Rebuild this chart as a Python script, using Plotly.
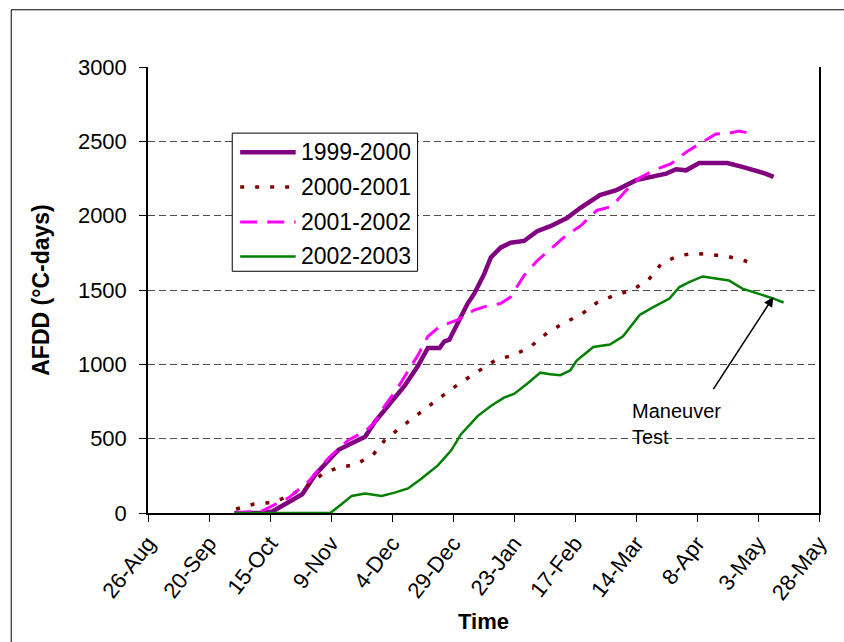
import plotly.graph_objects as go

# x = days since 26-Aug, y = AFDD (°C-days)
tick_days = [0, 25, 50, 75, 100, 125, 150, 175, 200, 225, 250, 275]
tick_labels = ["26-Aug", "20-Sep", "15-Oct", "9-Nov", "4-Dec", "29-Dec",
               "23-Jan", "17-Feb", "14-Mar", "8-Apr", "3-May", "28-May"]

series_names = ["1999-2000", "2000-2001", "2001-2002", "2002-2003"]

days_1999 = [35.4, 45.8, 51.0, 56.4, 63.2, 68.6, 74.0, 78.1, 83.5, 89.0, 93.0, 99.8,
             105.2, 110.6, 114.7, 119.5, 121.5, 123.5, 127.6, 131.0, 133.7, 137.8,
             140.5, 144.5, 148.6, 154.1, 159.5, 164.9, 171.7, 177.1, 185.2, 192.0,
             200.1, 206.9, 212.4, 216.4, 220.5, 225.9, 237.4, 243.6, 249.0, 253.0, 256.4]
afdd_1999 = [0, 0, 10, 60, 126, 259, 358, 425, 469, 513, 613, 745,
             856, 989, 1110, 1110, 1155, 1166, 1299, 1409, 1475, 1608,
             1719, 1785, 1818, 1830, 1896, 1929, 1984, 2051, 2139, 2172,
             2239, 2261, 2283, 2312, 2305, 2354, 2354, 2328, 2305, 2283, 2261]

days_2000 = [36.1, 43.5, 51.0, 57.8, 65.2, 71.3, 77.4, 84.9, 92.3, 97.1, 103.9, 110.0,
             116.8, 123.5, 130.3, 136.4, 142.5, 149.3, 156.1, 163.5, 170.3, 177.8,
             183.9, 191.3, 198.1, 204.9, 210.3, 217.1, 223.9, 231.3, 238.1, 245.6]
afdd_2000 = [27, 60, 71, 115, 181, 259, 303, 325, 392, 491, 580, 657,
             745, 823, 900, 967, 1029, 1060, 1110, 1210, 1276, 1339,
             1414, 1465, 1498, 1564, 1675, 1730, 1746, 1737, 1724, 1692]

days_2001 = [35.4, 46.9, 57.8, 65.9, 74.0, 82.2, 89.0, 93.0, 97.1, 102.5, 106.6, 110.6,
             114.7, 119.5, 126.9, 133.7, 138.4, 144.5, 148.6, 151.3, 154.1, 159.5,
             164.9, 171.7, 177.1, 183.9, 190.0, 196.1, 201.5, 208.3, 214.4, 220.5,
             225.9, 232.7, 238.1, 242.2, 246.2]
afdd_2001 = [0, 15, 104, 214, 370, 491, 550, 610, 723, 845, 956, 1060,
             1188, 1254, 1299, 1365, 1390, 1409, 1453, 1520, 1597, 1697,
             1774, 1872, 1929, 2035, 2062, 2172, 2255, 2312, 2350, 2427,
             2482, 2549, 2555, 2570, 2555]

days_2002 = [35.4, 74.7, 79.4, 83.5, 89.0, 95.7, 101.1, 106.6, 112.0, 118.8, 124.2,
             128.3, 135.1, 140.5, 145.9, 150.0, 155.4, 160.8, 164.9, 169.0, 173.1,
             175.7, 182.5, 189.3, 194.7, 201.5, 206.9, 213.7, 217.8, 221.8, 227.3,
             232.7, 238.1, 243.6, 250.3, 256.4, 260.5]
afdd_2002 = [0, 0, 60, 115, 131, 115, 137, 165, 230, 320, 420,
             530, 652, 720, 776, 801, 870, 944, 934, 927, 960,
             1025, 1117, 1133, 1188, 1332, 1383, 1442, 1520, 1553, 1591,
             1575, 1564, 1509, 1475, 1442, 1416]

colors = ["#800080", "#800000", "#FF00FF", "#008000"]
widths = [4.5, 3.5, 3, 2.5]
dashes = ["solid", "4px,11px", "17px,10px", "solid"]

FONT = "Liberation Sans, Arial, sans-serif"

fig = go.Figure()
all_x = [days_1999, days_2000, days_2001, days_2002]
all_y = [afdd_1999, afdd_2000, afdd_2001, afdd_2002]
for name, xs, ys, c, w, d in zip(series_names, all_x, all_y, colors, widths, dashes):
    fig.add_trace(go.Scatter(x=xs, y=ys, mode="lines", name=name,
                             line=dict(color=c, width=w, dash=d),
                             showlegend=False))

# plot area: x 148..825 px, y 67..519 px
L, R, T, B = 148, 825, 67, 519
W, H = 844, 642
def px(x):
    return (x - L) / (R - L)
def py(y):
    return (B - y) / (B - T)

shapes = []
annotations = []
# outer chart frame
shapes.append(dict(type="rect", xref="paper", yref="paper",
                   x0=px(10), x1=px(860), y0=py(660), y1=py(9),
                   line=dict(color="black", width=1), fillcolor="rgba(0,0,0,0)", layer="below"))
# legend box
shapes.append(dict(type="rect", xref="paper", yref="paper",
                   x0=px(233), x1=px(420), y0=py(274), y1=py(134),
                   line=dict(color="black", width=1), fillcolor="white", layer="above"))
leg_y = [153.5, 188.5, 224, 259]
for name, c, w, d, yy in zip(series_names, colors, widths, dashes, leg_y):
    shapes.append(dict(type="line", xref="paper", yref="paper",
                       x0=px(241), x1=px(297), y0=py(yy), y1=py(yy),
                       line=dict(color=c, width=w, dash=d), layer="above"))
    annotations.append(dict(xref="paper", yref="paper", x=px(300), y=py(yy),
                            xanchor="left", yanchor="middle", showarrow=False,
                            text=name, font=dict(family=FONT, size=23, color="black")))

# Maneuver Test annotation with arrow
annotations.append(dict(x=256.3, y=1453, ax=231.3, ay=823, xref="x", yref="y",
                        axref="x", ayref="y", text="", showarrow=True,
                        arrowhead=2, arrowsize=1.2, arrowwidth=1.6, arrowcolor="black"))
annotations.append(dict(xref="paper", yref="paper", x=px(634), y=py(429),
                        xanchor="left", yanchor="middle", showarrow=False, align="left",
                        text="Maneuver<br>Test",
                        font=dict(family=FONT, size=20, color="black")))

fig.update_layout(
    width=W, height=H,
    margin=dict(l=L, r=W - R, t=T, b=H - B, pad=0),
    paper_bgcolor="white", plot_bgcolor="white",
    font=dict(family=FONT, color="black"),
    shapes=shapes, annotations=annotations,
    showlegend=False,
)
fig.update_xaxes(range=[0, 275], tickvals=tick_days, ticktext=tick_labels,
                 tickangle=-52, tickfont=dict(size=22, family=FONT),
                 ticks="outside", ticklen=7, tickcolor="black",
                 showline=True, linecolor="black", linewidth=1.5,
                 showgrid=False, zeroline=False,
                 title=dict(text="<b>Time</b>", font=dict(size=22, family=FONT), standoff=10))
fig.update_yaxes(range=[0, 3000], dtick=500, tickfont=dict(size=22, family=FONT),
                 ticks="outside", ticklen=7, tickcolor="black",
                 ticklabelstandoff=8,
                 showline=True, linecolor="black", linewidth=1.5, mirror=True,
                 showgrid=True, gridcolor="#4d4d4d", gridwidth=1.2, griddash="7px,4px",
                 zeroline=False,
                 title=dict(text="<b>AFDD (°C-days)</b>", font=dict(size=23, family=FONT), standoff=22))

fig.write_html("out.html")
